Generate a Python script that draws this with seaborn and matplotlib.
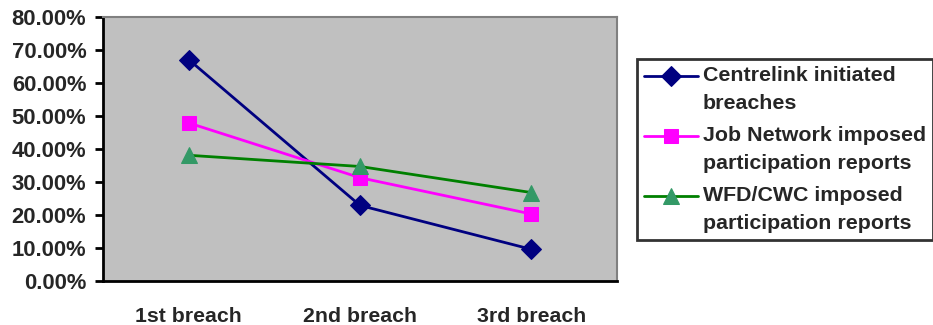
import matplotlib
matplotlib.use("Agg")
import matplotlib.pyplot as plt
import seaborn as sns
import pandas as pd
from matplotlib.ticker import FuncFormatter, FixedLocator
from matplotlib.legend_handler import HandlerLine2D

sns.set_style("white")
plt.rcParams["font.family"] = ["Liberation Sans", "DejaVu Sans"]
plt.rcParams["font.weight"] = "bold"

categories = ["1st breach", "2nd breach", "3rd breach"]
centrelink = [67.1, 22.9, 9.6]
job_network = [47.9, 31.3, 20.3]
wfd_cwc = [38.1, 34.7, 26.8]
series_names = [
    "Centrelink initiated\nbreaches",
    "Job Network imposed\nparticipation reports",
    "WFD/CWC imposed\nparticipation reports",
]
y_ticks = [0, 10, 20, 30, 40, 50, 60, 70, 80]

rows = []
for name, vals in zip(series_names, [centrelink, job_network, wfd_cwc]):
    for i, (cat, v) in enumerate(zip(categories, vals)):
        rows.append({"series": name, "category": cat, "pos": i, "value": v})
df = pd.DataFrame(rows)

styles = {
    series_names[0]: dict(color="#000080", marker="D", markersize=10,
                          markerfacecolor="#000080", markeredgecolor="#000080"),
    series_names[1]: dict(color="#FF00FF", marker="s", markersize=10,
                          markerfacecolor="#FF00FF", markeredgecolor="#FF00FF"),
    series_names[2]: dict(color="#008000", marker="^", markersize=11,
                          markerfacecolor="#339966", markeredgecolor="#339966"),
}


class FirstLineHandler(HandlerLine2D):
    """Line handle raised so it sits beside the first line of a two-line label."""

    def __init__(self, lift, **kw):
        super().__init__(**kw)
        self.lift = lift

    def create_artists(self, legend, orig_handle, xdescent, ydescent,
                       width, height, fontsize, trans):
        return super().create_artists(legend, orig_handle, xdescent,
                                      ydescent - 2 * self.lift, width, height,
                                      fontsize, trans)


fig = plt.figure(figsize=(9.33, 3.25), dpi=100)
ax = fig.add_axes([0.1104, 0.1354, 0.5509, 0.8123])
ax.set_facecolor("#C0C0C0")

for name in series_names:
    sub = df[df["series"] == name]
    sns.lineplot(data=sub, x="pos", y="value", ax=ax, label=name,
                 linewidth=2, legend=False, **styles[name])

ax.set_xlim(-0.5, 2.5)
ax.set_ylim(0, 80)
ax.yaxis.set_major_locator(FixedLocator(y_ticks))
ax.yaxis.set_major_formatter(FuncFormatter(lambda v, p: f"{v:.2f}%"))
ax.set_xticks([-0.5, 0.5, 1.5, 2.5])
ax.set_xticklabels([])
ax.set_xticks([0, 1, 2], minor=True)
ax.set_xticklabels(categories, minor=True)
ax.tick_params(axis="x", which="major", direction="out", length=7, width=2, color="black")
ax.tick_params(axis="x", which="minor", length=0, pad=18.5, labelsize=15.3)
ax.tick_params(axis="y", direction="out", length=6, width=2, color="black",
               labelsize=15.8, pad=6, left=True)
ax.set_xlabel("")
ax.set_ylabel("")

for side in ("left", "bottom"):
    ax.spines[side].set_color("black")
    ax.spines[side].set_linewidth(2)
for side in ("top", "right"):
    ax.spines[side].set_color("#808080")
    ax.spines[side].set_linewidth(1.5)

handles, labels = ax.get_legend_handles_labels()
leg = fig.legend(handles, labels, loc="upper left",
                 bbox_to_anchor=(637 / 933, 1 - 59 / 325),
                 frameon=True, fancybox=False, shadow=False,
                 prop={"size": 15.4, "weight": "bold"},
                 handlelength=2.5, handletextpad=0.25, labelspacing=0.62,
                 borderpad=0.33, borderaxespad=0,
                 handler_map={h: FirstLineHandler(9.5) for h in handles})
leg.get_frame().set_edgecolor("black")
leg.get_frame().set_linewidth(2)
for t in leg.get_texts():
    t.set_linespacing(1.58)

fig.savefig("out.png", dpi=100)
